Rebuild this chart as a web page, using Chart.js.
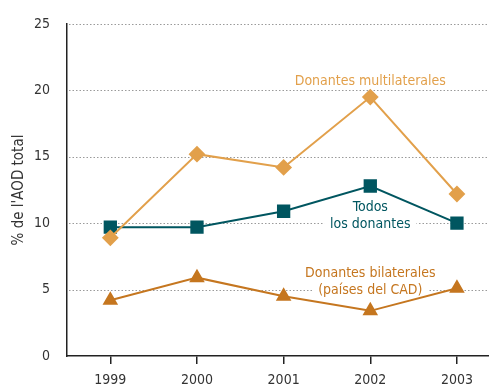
<!DOCTYPE html>
<html lang="es">
  <head>
    <meta charset="UTF-8" />
    <script src="https://cdn.jsdelivr.net/npm/chart.js"></script>
    <title>AOD</title>
    <style>
      html, body { margin: 0; padding: 0; background: #fff; }
      #wrap { width: 489px; height: 391px; }
    </style>
  </head>
  <body>
    <div id="wrap">
      <canvas id="chart" width="489" height="391"></canvas>
    </div>
  </body>
</html>
<script>
  const years = [1999, 2000, 2001, 2002, 2003];
  const multilaterales = [8.9, 15.2, 14.2, 19.5, 12.2];
  const todos = [9.7, 9.7, 10.9, 12.8, 10.0];
  const bilaterales = [4.2, 5.9, 4.5, 3.4, 5.1];
  const yTicks = [0, 5, 10, 15, 20, 25];

  const FONT = "'DejaVu Sans Condensed', 'DejaVu Sans', sans-serif";
  const C_MULTI = "#e2a04b";
  const C_TODOS = "#005660";
  const C_BILAT = "#c5761f";

  function pts(values) {
    return years.map((y, i) => ({ x: y, y: values[i] }));
  }

  // Series names written next to the lines, with a white box to break the grid
  const seriesLabels = [
    { lines: ["Donantes multilaterales"], year: 2002, value: 20.7, color: C_MULTI },
    { lines: ["Todos", "los donantes"], year: 2002, value: 9.9, color: C_TODOS },
    { lines: ["Donantes bilaterales", "(países del CAD)"], year: 2002, value: 4.95, color: C_BILAT },
  ];

  // Dotted horizontal grid, drawn under the lines
  const gridPlugin = {
    id: "dottedGrid",
    beforeDatasetsDraw(chart) {
      const ctx = chart.ctx;
      const ys = chart.scales.y;
      const area = chart.chartArea;
      ctx.save();
      ctx.strokeStyle = "#9a9a9a";
      ctx.lineWidth = 1;
      ctx.setLineDash([1.5, 2]);
      yTicks.forEach((v) => {
        if (v === 0) return;
        const py = Math.round(ys.getPixelForValue(v)) + 0.5;
        ctx.beginPath();
        ctx.moveTo(area.left + 2, py);
        ctx.lineTo(area.right, py);
        ctx.stroke();
      });
      ctx.restore();
    },
  };

  const labelPlugin = {
    id: "seriesLabels",
    beforeDatasetsDraw(chart) {
      const ctx = chart.ctx;
      const xs = chart.scales.x;
      const ys = chart.scales.y;
      ctx.save();
      ctx.font = "14px " + FONT;
      ctx.textAlign = "center";
      ctx.textBaseline = "middle";
      seriesLabels.forEach((l) => {
        const cx = xs.getPixelForValue(l.year);
        const cy = ys.getPixelForValue(l.value);
        const lh = 17;
        const top = cy - (l.lines.length - 1) * lh;
        l.lines.forEach((t, i) => {
          const w = ctx.measureText(t).width;
          ctx.fillStyle = "#fff";
          ctx.fillRect(cx - w / 2 - 6, top + i * lh - 8, w + 12, 16);
          ctx.fillStyle = l.color;
          ctx.fillText(t, cx, top + i * lh);
        });
      });
      ctx.restore();
    },
  };

  new Chart(document.getElementById("chart"), {
    type: "line",
    data: {
      datasets: [
        {
          label: "Donantes multilaterales",
          data: pts(multilaterales),
          borderColor: C_MULTI,
          backgroundColor: C_MULTI,
          borderWidth: 2,
          pointStyle: "rectRot",
          pointRadius: 7,
        },
        {
          label: "Todos los donantes",
          data: pts(todos),
          borderColor: C_TODOS,
          backgroundColor: C_TODOS,
          borderWidth: 2,
          pointStyle: "rect",
          pointRadius: 8,
        },
        {
          label: "Donantes bilaterales (países del CAD)",
          data: pts(bilaterales),
          borderColor: C_BILAT,
          backgroundColor: C_BILAT,
          borderWidth: 2,
          pointStyle: "triangle",
          pointRadius: 7,
        },
      ],
    },
    options: {
      responsive: false,
      animation: false,
      layout: { autoPadding: false, padding: { top: 24, right: 0, bottom: 0, left: 0 } },
      plugins: { legend: { display: false }, tooltip: { enabled: false } },
      scales: {
        x: {
          type: "linear",
          min: 1998.5,
          max: 2003.37,
          afterBuildTicks: (axis) => {
            axis.ticks = years.map((v) => ({ value: v }));
          },
          afterFit: (axis) => {
            axis.height = 35;
            axis.paddingLeft = 0;
            axis.paddingRight = 0;
          },
          ticks: {
            color: "#333",
            font: { family: FONT, size: 14 },
            padding: 8,
            maxRotation: 0,
            callback: (v) => String(v),
          },
          grid: {
            drawOnChartArea: false,
            drawTicks: true,
            tickLength: 8,
            color: "#222",
            lineWidth: 1.5,
          },
          border: { display: true, color: "#222", width: 1.5 },
        },
        y: {
          min: 0,
          max: 25,
          afterBuildTicks: (axis) => {
            axis.ticks = yTicks.map((v) => ({ value: v }));
          },
          afterFit: (axis) => {
            axis.width = 67;
          },
          ticks: {
            color: "#333",
            font: { family: FONT, size: 14 },
            padding: 9,
          },
          grid: { display: false },
          border: { display: true, color: "#222", width: 1.5 },
          title: {
            display: true,
            text: "% de l'AOD total",
            color: "#333",
            font: { family: FONT, size: 15 },
            padding: { top: 10, bottom: 0 },
          },
        },
      },
    },
    plugins: [gridPlugin, labelPlugin],
  });
</script>
